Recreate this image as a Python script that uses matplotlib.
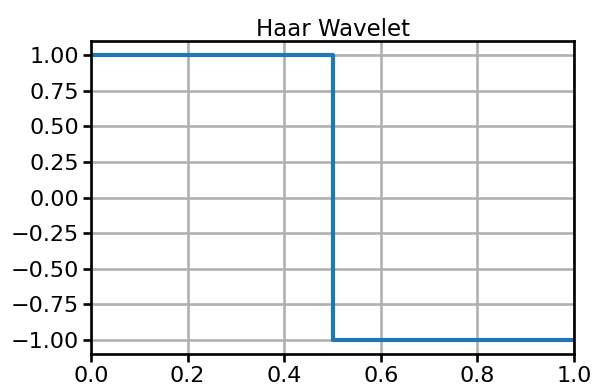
import matplotlib.pyplot as plt
import numpy as np

# Haar mother wavelet: +1 on [0, 0.5), -1 on [0.5, 1]
t = np.array([0.0, 0.5, 0.5, 1.0])
psi = np.array([1.0, 1.0, -1.0, -1.0])

fig = plt.figure(figsize=(5.93, 3.85), dpi=100)
ax = fig.add_axes([0.1535, 0.0805, 0.8145, 0.813])

ax.plot(t, psi, color='#1f77b4', linewidth=3.0)
ax.set_xlim(0, 1)
ax.set_yticks(np.arange(-1.0, 1.01, 0.25))
ax.set_xticks(np.arange(0, 1.01, 0.2))
ax.grid(True, color='#b0b0b0', linewidth=1.9)
ax.tick_params(labelsize=16, width=1.9, length=5.5, pad=3)
for s in ax.spines.values():
    s.set_linewidth(1.9)
ax.set_title('Haar Wavelet', fontsize=16.5, pad=3)

fig.savefig('out.png', dpi=100)
